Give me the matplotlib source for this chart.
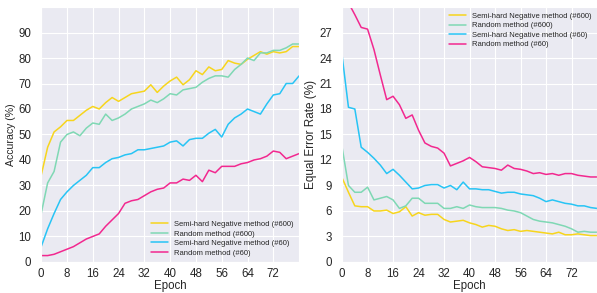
import numpy as np
import matplotlib
matplotlib.use('Agg')
from matplotlib import pyplot as plt
import seaborn as sns

epochs = np.arange(0, 81, 2)

labels = ['Semi-hard Negative method (#600)', 'Random method (#600)',
          'Semi-hard Negative method (#60)', 'Random method (#60)']
colors = ['#f7d51d', '#7fd8b4', '#27c4f5', '#f2288f']

# accuracy (%)
acc_semi600 = [34, 45, 51, 53, 55.5, 55.5, 57.5, 59.5, 61, 60, 62.5, 64.5, 63, 64.5, 66, 66.5,
               67, 69.5, 66.5, 69, 71, 72.5, 69.5, 71.5, 75, 73.5, 76.5, 75, 75.5, 79, 78,
               77.5, 79.5, 81, 82.5, 81.5, 82.5, 82, 82.5, 84.5, 84.5]
acc_rand600 = [19, 31, 35.5, 47, 50, 51, 49.5, 52.5, 54.5, 54, 58, 55.5, 56.5, 58, 60, 61,
               62, 63.5, 62.5, 64, 66, 65.5, 67.5, 68, 68.5, 70.5, 72, 73, 73, 72.5, 75.5,
               77.5, 80, 79, 82, 82, 83, 83, 84, 85.5, 85.5]
acc_semi60 = [6, 13, 19, 24.5, 27.5, 30, 32, 34, 37, 37, 39, 40.5, 41, 42, 42.5, 44,
              44, 44.5, 45, 45.5, 47, 47.5, 45.5, 48, 48.5, 48.5, 50.5, 52, 49, 54, 56.5,
              58, 60, 59, 58, 62, 65.5, 66, 70, 70, 73]
acc_rand60 = [2.5, 2.5, 3, 4, 5, 6, 7.5, 9, 10, 11, 14, 16.5, 19, 23, 24, 24.5,
              26, 27.5, 28.5, 29, 31, 31, 32.5, 32, 34, 31.5, 36, 35, 37.5, 37.5, 37.5,
              38.5, 39, 40, 40.5, 41.5, 43.5, 43, 40.5, 41.5, 42.5]

# equal error rate (%)
eer_semi600 = [9.9, 8.2, 6.6, 6.5, 6.5, 6.0, 6.0, 6.1, 5.7, 5.9, 6.5, 5.4, 5.8, 5.5, 5.6, 5.6,
               5.0, 4.7, 4.8, 4.9, 4.6, 4.4, 4.1, 4.3, 4.2, 3.9, 3.7, 3.8, 3.6, 3.7, 3.6,
               3.5, 3.4, 3.3, 3.5, 3.2, 3.2, 3.3, 3.2, 3.1, 3.1]
eer_rand600 = [13.5, 9.0, 8.2, 8.2, 8.8, 7.3, 7.5, 7.7, 7.3, 6.3, 6.6, 7.5, 7.5, 6.9, 6.9, 6.9,
               6.3, 6.3, 6.5, 6.3, 6.7, 6.5, 6.4, 6.4, 6.4, 6.3, 6.1, 6.0, 5.8, 5.4, 5.0,
               4.8, 4.7, 4.6, 4.4, 4.2, 3.9, 3.5, 3.6, 3.5, 3.5]
eer_semi60 = [24.3, 18.2, 18.0, 13.5, 12.9, 12.2, 11.4, 10.4, 10.9, 10.2, 9.4, 8.6, 8.7, 9.0,
              9.1, 9.1, 8.7, 9.0, 8.5, 9.4, 8.6, 8.6, 8.5, 8.5, 8.3, 8.1, 8.2, 8.2, 8.0,
              7.9, 7.8, 7.5, 7.1, 7.3, 7.1, 6.9, 6.8, 6.6, 6.6, 6.4, 6.3]
eer_rand60 = [32, 30.5, 29.1, 27.6, 27.4, 25, 22, 19.1, 19.5, 18.5, 16.9, 17.3, 15.5, 14, 13.6,
              13.4, 12.8, 11.3, 11.6, 11.9, 12.3, 11.8, 11.2, 11.1, 11.0, 10.8, 11.4, 11.0,
              10.9, 10.7, 10.4, 10.5, 10.3, 10.4, 10.2, 10.4, 10.4, 10.2, 10.1, 10.0, 10.0]

sns.set_style('darkgrid')
plt.rcParams['font.family'] = ['Liberation Sans', 'DejaVu Sans']

fig = plt.figure(figsize=(5.97, 2.93), dpi=100)
ax1 = fig.add_axes([0.069, 0.106, 0.432, 0.870])
ax2 = fig.add_axes([0.573, 0.106, 0.427, 0.870])

for ys, c, lab in zip([acc_semi600, acc_rand600, acc_semi60, acc_rand60], colors, labels):
    ax1.plot(epochs, ys, color=c, lw=1.1, label=lab)
for ys, c, lab in zip([eer_semi600, eer_rand600, eer_semi60, eer_rand60], colors, labels):
    ax2.plot(epochs, ys, color=c, lw=1.1, label=lab)

leg_kw = dict(fontsize=5.5, frameon=False, handlelength=2.2, handletextpad=0.8,
              labelspacing=0.28, borderaxespad=0.3)

ax1.set_xlim(0, 80)
ax1.set_ylim(0, 100)
ax1.set_xticks(np.arange(0, 80, 8))
ax1.set_yticks(np.arange(0, 100, 10))
ax1.set_xlabel('Epoch', fontsize=8.3, labelpad=0)
ax1.set_ylabel('Accuracy (%)', fontsize=7.6, labelpad=2)
ax1.legend(loc='lower right', **leg_kw)

ax2.set_xlim(0, 80)
ax2.set_ylim(0, 30)
ax2.set_xticks(np.arange(0, 80, 8))
ax2.set_yticks(np.arange(0, 30, 3))
ax2.set_xlabel('Epoch', fontsize=8.3, labelpad=0)
ax2.set_ylabel('Equal Error Rate (%)', fontsize=8.5, labelpad=2)
ax2.legend(loc='upper right', **leg_kw)

for ax in (ax1, ax2):
    ax.tick_params(axis='x', labelsize=8.3, pad=1.0)
    ax.tick_params(axis='y', labelsize=8.3, pad=3.5)

fig.savefig('out.png', dpi=100)
